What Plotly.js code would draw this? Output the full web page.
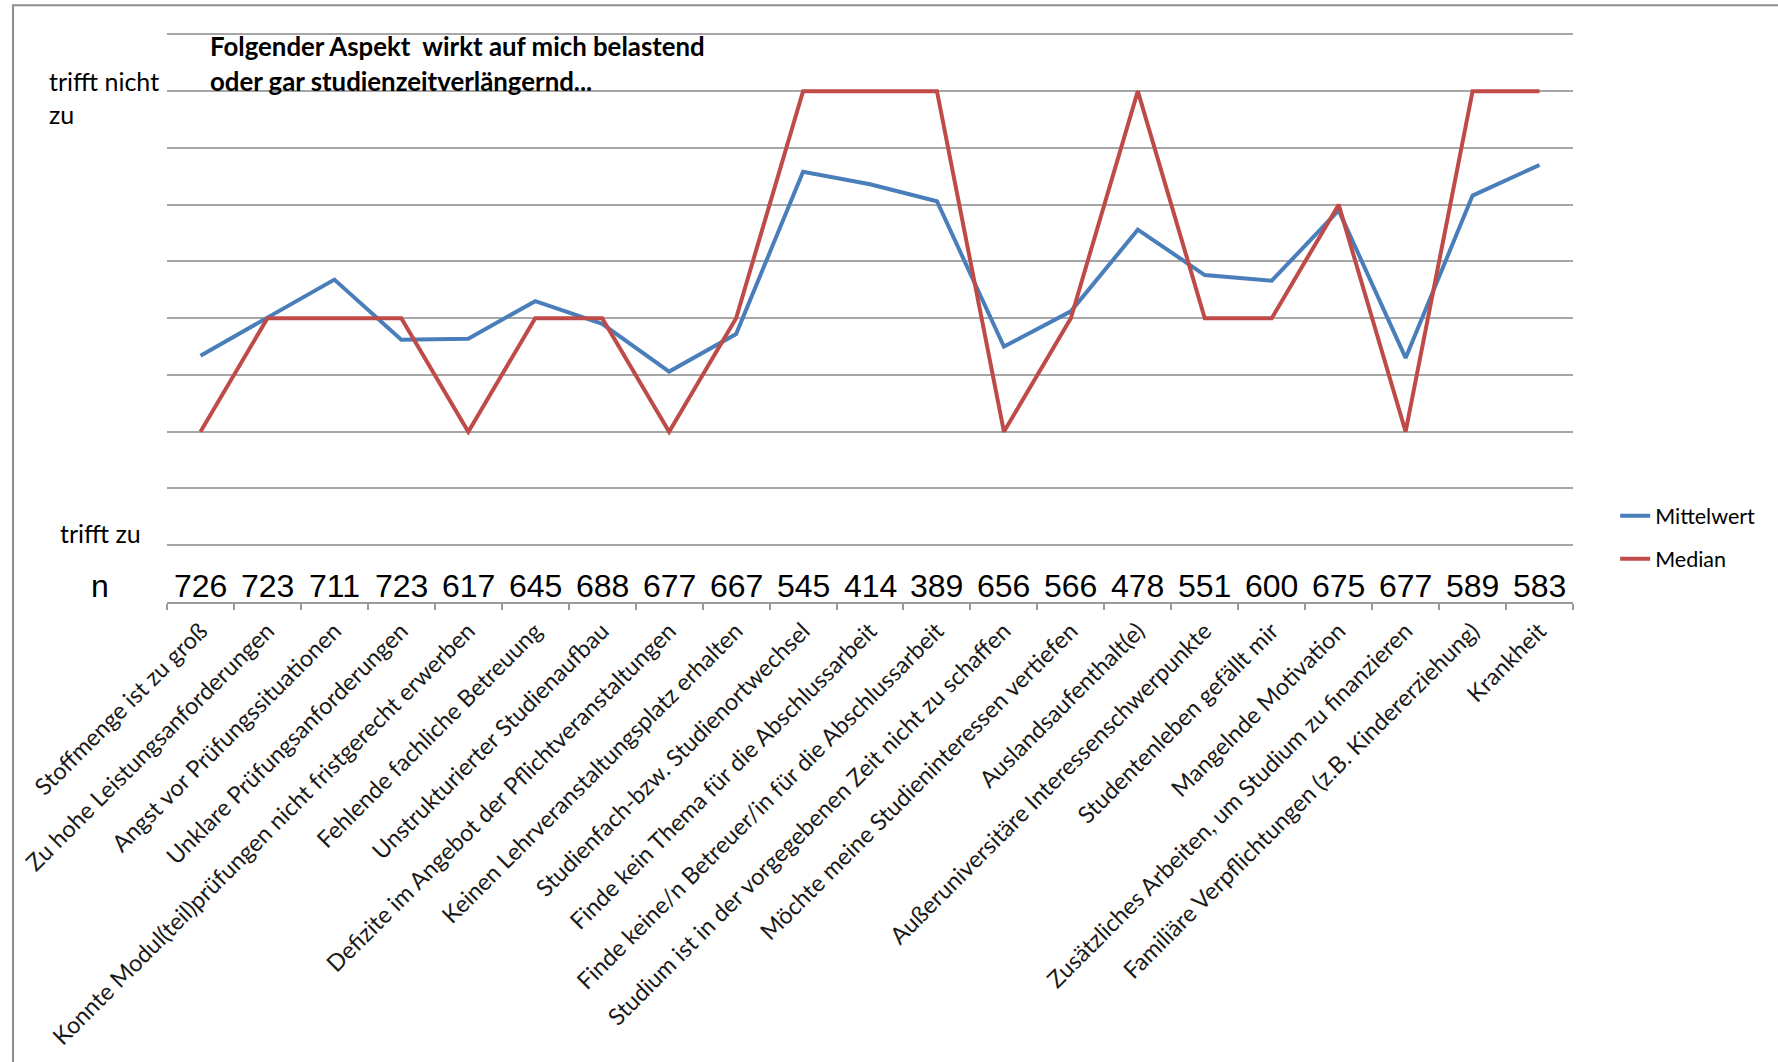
<!DOCTYPE html>
<html><head><meta charset="utf-8">
<script src="https://cdn.plot.ly/plotly-3.0.1.min.js"></script>
<style>html,body{margin:0;padding:0;background:#fff}</style>
</head><body><div id="chart" style="width:1778px;height:1062px"></div>
<script>
const categories = [
  "Stoffmenge ist zu groß",
  "Zu hohe Leistungsanforderungen",
  "Angst vor Prüfungssituationen",
  "Unklare Prüfungsanforderungen",
  "Konnte Modul(teil)prüfungen nicht fristgerecht erwerben",
  "Fehlende fachliche Betreuung",
  "Unstrukturierter Studienaufbau",
  "Defizite im Angebot der Pflichtveranstaltungen",
  "Keinen Lehrveranstaltungsplatz erhalten",
  "Studienfach-bzw. Studienortwechsel",
  "Finde kein Thema für die Abschlussarbeit",
  "Finde keine/n Betreuer/in für die Abschlussarbeit",
  "Studium ist in der vorgegebenen Zeit nicht zu schaffen",
  "Möchte meine Studieninteressen vertiefen",
  "Auslandsaufenthalt(e)",
  "Außeruniversitäre Interessenschwerpunkte",
  "Studentenleben gefällt mir",
  "Mangelnde Motivation",
  "Zusätzliches Arbeiten, um Studium zu finanzieren",
  "Familiäre Verpflichtungen (z.B. Kindererziehung)",
  "Krankheit"
];
const mittelwert = [2.67, 3.01, 3.34, 2.81, 2.82, 3.15, 2.95, 2.53, 2.86, 4.29, 4.18, 4.03, 2.75, 3.06, 3.78, 3.38, 3.33, 3.95, 2.65, 4.08, 4.35];
const median = [2, 3, 3, 3, 2, 3, 3, 2, 3, 5, 5, 5, 2, 3, 5, 3, 3, 4, 2, 5, 5];
const nValues = [726, 723, 711, 723, 617, 645, 688, 677, 667, 545, 414, 389, 656, 566, 478, 551, 600, 675, 677, 589, 583];
const seriesNames = ["Mittelwert", "Median"];
const titleLines = ["Folgender Aspekt  wirkt auf mich belastend", "oder gar studienzeitverlängernd..."];
const yLabelTop = "trifft nicht<br>zu";
const yLabelBottom = "trifft zu";
const nLabel = "n";

const labelFont = "Lato, 'Open Sans', sans-serif";
const numFont = "'Liberation Sans', Arial, sans-serif";

const traces = [
  {x: categories, y: mittelwert, name: seriesNames[0], type: "scatter", mode: "lines",
   line: {color: "#4a7ebb", width: 4}, legendgroup: "a"},
  {x: categories, y: median, name: seriesNames[1], type: "scatter", mode: "lines",
   line: {color: "#be4b48", width: 4}, legendgroup: "b"}
];

const annotations = [];
categories.forEach((c, i) => {
  annotations.push({x: c, y: 0.645, xref: "x", yref: "y", text: String(nValues[i]),
    showarrow: false, xanchor: "center", yanchor: "middle",
    font: {family: numFont, size: 32, color: "#000"}});
});
annotations.push({x: -0.048, y: 0.645, xref: "paper", yref: "y", text: nLabel, showarrow: false,
  xanchor: "center", yanchor: "middle", font: {family: numFont, size: 32, color: "#000"}});
annotations.push({x: -0.0855, y: 4.945, xref: "paper", yref: "y", text: yLabelTop, showarrow: false,
  xanchor: "left", yanchor: "middle", align: "left",
  font: {family: labelFont, size: 25, color: "#000"}});
annotations.push({x: -0.0775, y: 0.96, xref: "paper", yref: "y", text: yLabelBottom, showarrow: false,
  xanchor: "left", yanchor: "bottom", align: "left",
  font: {family: labelFont, size: 25, color: "#000"}});
titleLines.forEach((t, i) => {
  annotations.push({x: 0.0295, y: 0.973 - 0.06 * i, xref: "paper", yref: "paper", text: "<b>" + t + "</b>",
    showarrow: false, xanchor: "left", yanchor: "middle", align: "left",
    font: {family: labelFont, size: 25.8, color: "#000"}});
});

const layout = {
  width: 1778, height: 1062,
  margin: {l: 167, r: 205, t: 31, b: 460},
  paper_bgcolor: "#fff", plot_bgcolor: "#fff",
  showlegend: true,
  legend: {x: 1.030, xanchor: "left", y: 0.187, yanchor: "top", tracegroupgap: 12,
    font: {family: labelFont, size: 21.5, color: "#000"}, bgcolor: "rgba(0,0,0,0)"},
  xaxis: {
    type: "category", showgrid: false, zeroline: false,
    showline: true, linecolor: "#9a9a9a", linewidth: 2,
    ticks: "outside", tickson: "boundaries", ticklen: 6, tickcolor: "#9a9a9a", tickwidth: 2,
    tickangle: -45, ticklabelstandoff: 4, tickfont: {family: labelFont, size: 23.5, color: "#1a1a1a"},
    range: [-0.5, categories.length - 0.5], fixedrange: true
  },
  yaxis: {
    range: [0.5, 5.53], tick0: 0.5, dtick: 0.5, showgrid: true, gridcolor: "#a6a6a6", gridwidth: 2,
    showticklabels: false, zeroline: false, showline: false, ticks: "", fixedrange: true
  },
  annotations: annotations,
  shapes: [{type: "rect", xref: "paper", yref: "paper", x0: -0.1095, x1: 1.3, y0: -1.2, y1: 1.045,
    line: {color: "#8c8c8c", width: 2}, fillcolor: "rgba(0,0,0,0)", layer: "below"}]
};

Plotly.newPlot("chart", traces, layout, {displayModeBar: false, staticPlot: true});
</script></body></html>
